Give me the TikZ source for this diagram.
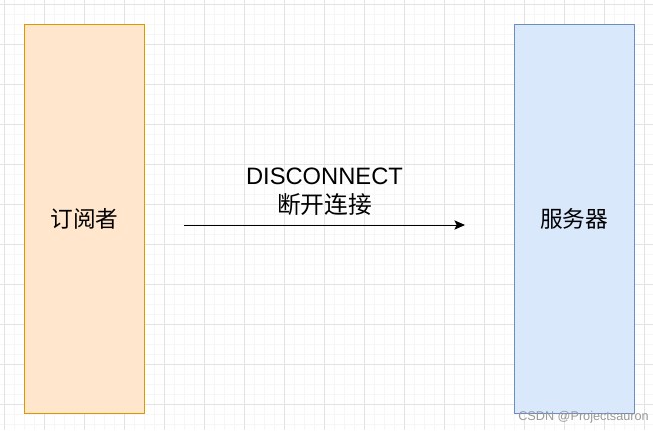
\documentclass[tikz,border=0pt]{standalone}
\usepackage{fontspec}
\setmainfont{Liberation Sans}
\newfontfamily\cjk{Noto Sans CJK SC}
\usetikzlibrary{arrows.meta}

\definecolor{gridmajor}{HTML}{E3E3E3}
\definecolor{gridminor}{HTML}{F6F6F6}
\definecolor{subfill}{HTML}{FFE6CC}
\definecolor{subline}{HTML}{D79B00}
\definecolor{srvfill}{HTML}{DAE8FC}
\definecolor{srvline}{HTML}{6C8EBF}

\tikzset{
  actorbox/.style={draw, line width=0.75pt, minimum width=90pt, minimum height=291.75pt, inner sep=0pt},
  msgtext/.style={align=center, font=\fontsize{17.8}{22}\selectfont, inner sep=0.75pt},
  boxtext/.style={font=\fontsize{17}{20}\selectfont\cjk}
}

\begin{document}
\begin{tikzpicture}[x=0.75pt,y=0.75pt,yscale=-1,xscale=1]
        \useasboundingbox (0,0) rectangle (653,430);
        \fill[white] (0,0) rectangle (653,430);
        % grid
        \foreach \i in {4,14,...,654} {
          \draw[gridminor, line width=0.75pt] (\i,0) -- (\i,430);
        }
        \foreach \j in {4,14,...,434} {
          \draw[gridminor, line width=0.75pt] (0,\j) -- (653,\j);
        }
        \foreach \i in {4,44,...,654} {
          \draw[gridmajor, line width=0.75pt] (\i,0) -- (\i,430);
        }
        \foreach \j in {4,44,...,434} {
          \draw[gridmajor, line width=0.75pt] (0,\j) -- (653,\j);
        }

        % subscriber and server
        \node[actorbox, draw=subline, fill=subfill] (subscriber) at (84.5,219) {};
        \node[actorbox, draw=srvline, fill=srvfill] (server) at (574,219) {};
        \node[boxtext] (sublabel) at (subscriber.center) {订阅者};
        \node[boxtext] (srvlabel) at (server.center) {服务器};

        % disconnect message
        \coordinate (msgstart) at (184,225);
        \coordinate (msgend) at (465,225);
        \draw[line width=0.75pt, -{Stealth[length=8pt, width=7pt, inset=1.8pt]}] (msgstart) -- (msgend)
          node[midway, above=6pt, msgtext] (msglabel) {DISCONNECT\\{\cjk 断开连接}};

        % watermark
        \node[anchor=south east, text=black!40, font=\fontsize{9.5}{11}\selectfont, inner sep=0pt] (mark) at (649,423) {CSDN @Projectsauron};
\end{tikzpicture}
\end{document}
